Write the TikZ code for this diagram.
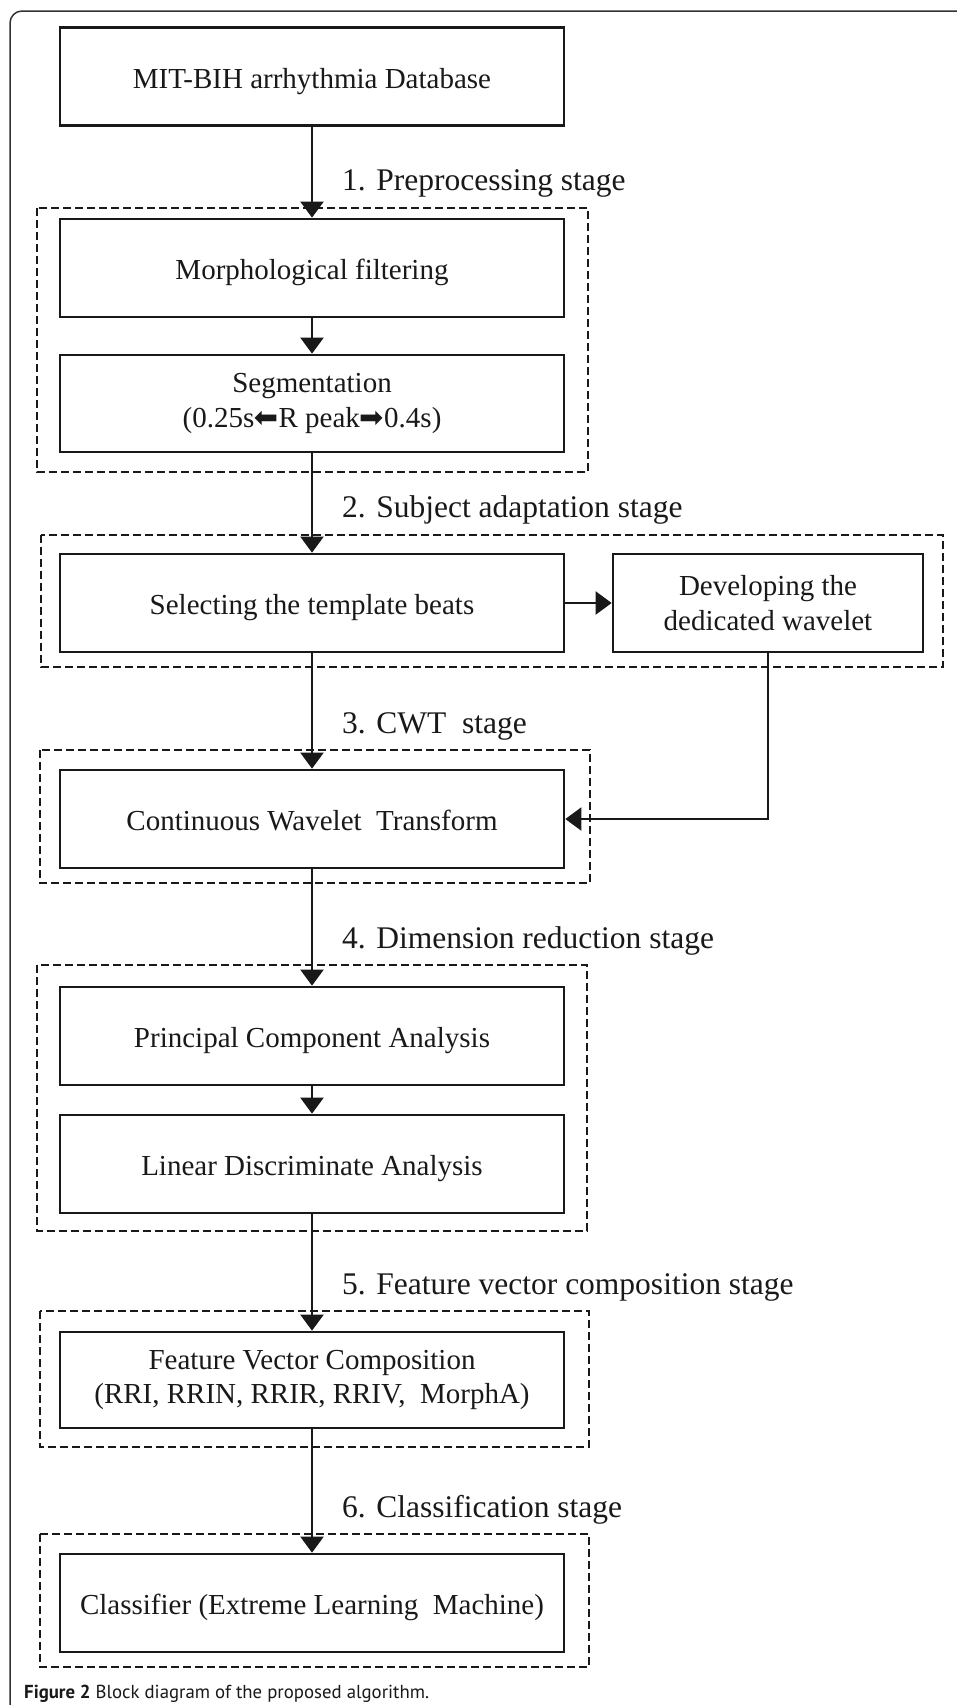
\documentclass[tikz,border=0pt]{standalone}
\usepackage{fontspec}
\usepackage{graphicx}
\setmainfont{Liberation Serif}
\newfontfamily\capfont{PT Sans}
\newfontfamily\symfont{DejaVu Sans}
\usetikzlibrary{arrows.meta}
\definecolor{ink}{RGB}{25,25,25}
\definecolor{framec}{RGB}{50,50,50}
\newcommand{\rightheavy}{{\symfont\scalebox{1.0}{➡}}}
\newcommand{\leftheavy}{{\symfont\reflectbox{\scalebox{1.0}{➡}}}}
\tikzset{
  stagebox/.style={draw=ink, line width=2.7pt, minimum width=504pt, minimum height=98pt,
    inner sep=0pt, align=center, text=ink, font={\fontsize{29pt}{34.5pt}\selectfont}},
  oneline/.style={text height=23pt, text depth=0pt},
  grp/.style={draw=ink, line width=2.2pt, dash pattern=on 8pt off 4pt},
  flow/.style={draw=ink, line width=2.2pt, -{Triangle[length=16pt,width=23pt]}},
  stagelabel/.style={anchor=base west, inner sep=0pt, text=ink, font={\fontsize{31.5pt}{36pt}\selectfont}},
}
\begin{document}
\begin{tikzpicture}[x=1pt,y=-1pt]
\useasboundingbox (0,0) rectangle (957,1705);
\fill[white] (0,0) rectangle (957,1705);
% outer frame
\draw[framec, line width=1.5pt, rounded corners=12pt] (10,1730) -- (10,11) -- (980,11);

% group frames (dashed)
\draw[grp] (37,208) rectangle (588,472);
\draw[grp] (41,535) rectangle (943,667);
\draw[grp] (40,750) rectangle (590,883);
\draw[grp] (37,965) rectangle (587,1231);
\draw[grp] (40,1311) rectangle (589,1447);
\draw[grp] (40,1534) rectangle (589,1667);

% boxes
\node[stagebox, oneline] (db) at (312,76.5) {MIT-BIH arrhythmia Database};
\node[stagebox, oneline] (morph) at (312,268) {Morphological filtering};
\node[stagebox, minimum height=97pt] (seg) at (312,403.5) {Segmentation\\(0.25s\leftheavy R peak\rightheavy 0.4s)};
\node[stagebox, oneline] (sel) at (312,603) {Selecting the template beats};
\node[stagebox, minimum width=310pt] (dev) at (768,603) {Developing the\\dedicated wavelet};
\node[stagebox, oneline] (cwt) at (312,819) {Continuous Wavelet\ \ Transform};
\node[stagebox, oneline] (pca) at (312,1036) {Principal Component Analysis};
\node[stagebox, oneline] (lda) at (312,1164) {Linear Discriminate Analysis};
\node[stagebox, minimum height=96pt] (fvc) at (312,1380) {Feature Vector Composition\\(RRI, RRIN, RRIR, RRIV,\ \ MorphA)};
\node[stagebox, oneline] (cls) at (312,1603) {Classifier (Extreme Learning\ \ Machine)};

% stage labels
\node[stagelabel] (l1) at (342,190) {1. Preprocessing stage};
\node[stagelabel] (l2) at (342,517) {2. Subject adaptation stage};
\node[stagelabel] (l3) at (342,733) {3. CWT\ \ stage};
\node[stagelabel] (l4) at (342,948) {4. Dimension reduction stage};
\node[stagelabel] (l5) at (342,1294) {5. Feature vector composition stage};
\node[stagelabel] (l6) at (342,1517) {6. Classification stage};

% connectors
\draw[flow] (db) -- (morph);
\draw[flow] (morph) -- (seg);
\draw[flow] (seg) -- (sel);
\draw[flow] (sel) -- (dev);
\draw[flow] (sel) -- (cwt);
\draw[flow] (dev.south) |- (cwt.east);
\draw[flow] (cwt) -- (pca);
\draw[flow] (pca) -- (lda);
\draw[flow] (lda) -- (fvc);
\draw[flow] (fvc) -- (cls);

% caption
\node[anchor=base west, inner sep=0pt, text=ink, font={\capfont\fontsize{18.8pt}{22pt}\selectfont}] (cap) at (24,1698) {\textbf{Figure 2} Block diagram of the proposed algorithm.};
\end{tikzpicture}
\end{document}
